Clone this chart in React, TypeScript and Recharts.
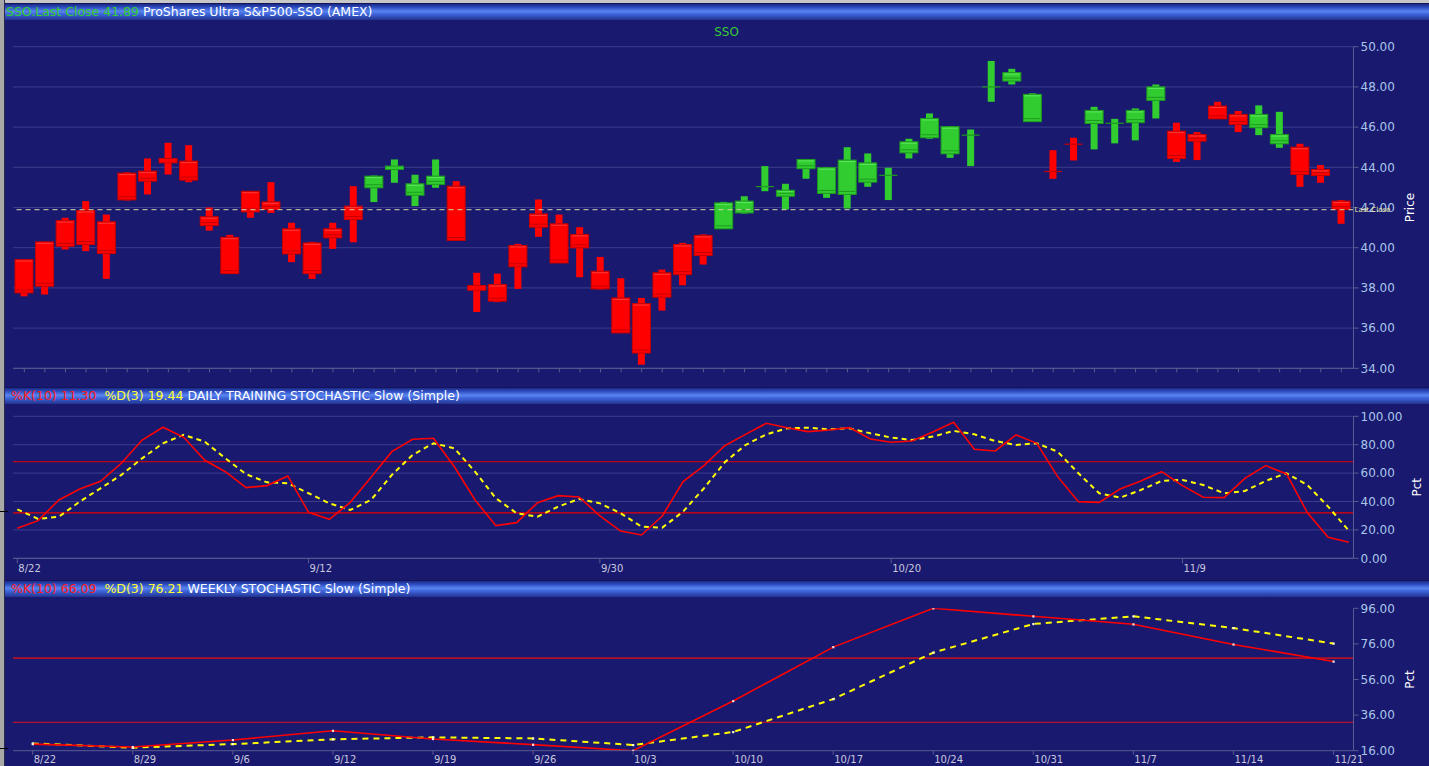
import React from 'react';
import { ComposedChart, LineChart, Line, Bar, XAxis, YAxis, CartesianGrid, ReferenceLine } from 'recharts';

const days = ['8/22','8/23','8/24','8/25','8/26','8/29','8/30','8/31','9/1','9/2','9/6','9/7','9/8','9/9','9/12','9/13','9/14','9/15','9/16','9/19','9/20','9/21','9/22','9/23','9/26','9/27','9/28','9/29','9/30','10/3','10/4','10/5','10/6','10/7','10/10','10/11','10/12','10/13','10/14','10/17','10/18','10/19','10/20','10/21','10/24','10/25','10/26','10/27','10/28','10/31','11/1','11/2','11/3','11/4','11/7','11/8','11/9','11/10','11/11','11/14','11/15','11/16','11/17','11/18','11/21'];

const opens = [39.41,40.29,41.35,41.85,41.29,43.71,43.81,44.44,44.31,41.54,40.52,42.81,42.28,40.94,40.24,40.94,42.07,42.98,43.89,42.61,43.15,43.06,38.12,38.17,40.11,41.68,41.19,40.66,38.83,37.50,37.22,38.75,40.16,40.61,40.94,41.73,43.02,42.56,43.93,42.70,42.65,43.26,43.58,44.72,45.47,44.67,45.58,47.98,48.29,46.27,43.79,45.15,46.18,46.17,46.22,47.33,45.80,45.63,47.05,46.63,45.97,45.17,45.00,43.89,42.32];
const highs = [39.41,40.29,41.49,42.32,41.65,43.75,44.44,45.22,45.10,42.00,40.64,42.81,43.26,41.24,40.29,41.24,43.06,43.59,44.39,43.63,44.39,43.31,38.75,38.71,40.19,42.40,41.65,41.02,39.54,38.48,37.50,38.91,40.24,40.66,42.28,42.56,44.06,43.18,44.39,44.01,45.00,44.69,43.98,45.42,46.68,46.05,45.88,49.29,48.90,47.68,44.85,45.47,47.01,46.41,46.93,48.12,46.22,45.75,47.26,46.80,47.08,46.76,45.17,44.11,42.37];
const lows = [37.58,37.67,39.91,39.83,38.45,42.35,42.65,43.64,43.26,40.85,38.71,41.49,41.73,39.28,38.45,39.94,40.27,42.27,43.23,42.07,42.98,40.36,36.80,37.29,37.95,40.54,39.24,38.53,37.92,35.76,34.18,36.87,38.13,39.16,40.94,41.70,42.81,41.90,43.43,42.48,41.95,43.03,42.37,44.44,45.42,44.47,44.06,47.26,48.12,46.27,43.43,44.34,44.89,45.19,45.34,46.43,44.27,44.36,46.41,45.75,45.60,44.97,43.03,43.23,41.19];
const closes = [37.75,38.08,40.07,40.16,39.71,42.38,43.31,44.22,43.36,41.10,38.71,41.78,41.90,39.69,38.71,40.49,41.40,43.56,44.06,43.18,43.56,40.36,37.88,37.34,39.05,41.02,39.24,39.99,37.95,35.76,34.76,37.54,38.66,39.61,42.23,42.32,43.04,42.86,44.39,43.98,44.36,44.22,43.60,45.27,46.43,46.02,45.60,48.00,48.71,47.63,43.77,45.13,46.83,46.19,46.83,48.00,44.44,45.30,46.41,46.13,46.63,45.63,43.64,43.59,41.89];

const dailyK = [21.1,26.5,41.1,48.8,54.2,66.9,83.3,92.3,85.2,69.2,61.0,49.8,51.2,58.0,32.4,27.5,39.4,57.0,75.1,83.8,84.5,64.6,41.1,23.0,25.1,39.2,44.1,43.2,29.8,19.2,16.4,29.8,54.0,65.3,79.3,87.3,95.1,92.0,89.2,90.4,92.0,84.0,81.7,82.6,89.0,95.8,76.8,75.6,86.9,81.0,57.5,39.9,39.4,48.8,54.5,61.0,51.2,43.0,42.7,56.3,65.3,59.4,32.2,14.8,11.3];
const dailyD = [34.5,27.7,29.3,39.9,49.3,58.7,70.4,81.0,86.9,82.2,70.4,59.2,53.5,52.8,45.8,38.7,34.0,41.1,58.7,72.8,81.0,77.5,61.0,42.3,31.7,29.3,36.4,41.8,38.7,31.7,22.3,21.6,32.9,49.3,67.6,79.8,87.3,91.5,92.0,90.8,91.5,88.0,85.0,83.3,85.7,89.7,87.3,82.6,79.8,81.0,75.1,59.9,45.8,42.7,48.1,54.5,55.2,51.6,45.8,47.4,54.5,59.9,51.6,36.4,19.44];

const weeks = ['8/22','8/29','9/6','9/12','9/19','9/26','10/3','10/10','10/17','10/24','10/31','11/7','11/14','11/21'];
const weeklyK = [19.7,18.1,22.0,27.2,22.6,19.4,16.0,43.9,74.2,96.0,91.5,87.0,75.7,66.09];
const weeklyD = [20.1,17.7,19.7,22.4,23.5,22.9,19.2,26.5,45.0,71.1,87.2,91.5,84.9,76.21];

const priceTicks = [34,36,38,40,42,44,46,48,50];
const dailyTicks = [0,20,40,60,80,100];
const weeklyTicks = [16,36,56,76,96];
const dailyLabelDates = ['8/22','9/12','9/30','10/20','11/9'];
const overbought = 68;
const oversold = 32;

const priceData = days.map((d, i) => ({ i, date: d, open: opens[i], high: highs[i], low: lows[i], close: closes[i], range: [lows[i], highs[i]] }));
const dailyData = days.map((d, i) => ({ i, date: d, k: dailyK[i], d: dailyD[i] }));
const weeklyData = weeks.map((w, i) => ({ i, date: w, k: weeklyK[i], d: weeklyD[i] }));

const BG = '#191970';
const GRID = '#3d3d8c';
const AXIS = '#5c5c90';
const TICKTXT = '#a9c6e8';
const FONT = '"DejaVu Sans", Verdana, sans-serif';
const W = 1429;

const Candle = (props: any) => {
  const { x, y, width, height, payload } = props;
  if (!payload || height == null || isNaN(y)) return null;
  const { open, close, high, low } = payload;
  const cx = x + width / 2;
  const ppu = height / (high - low);
  const yO = y + (high - open) * ppu;
  const yC = y + (high - close) * ppu;
  const up = close >= open;
  const fill = up ? '#30cc30' : '#ff0000';
  const edge = up ? '#1f9a1f' : '#c40000';
  const hi = up ? '#5ee85e' : '#ff3a3a';
  const top = Math.min(yO, yC);
  const bh = Math.abs(yC - yO);
  const bw = 18;
  const ww = 7;
  return (
    <g>
      <rect x={cx - ww / 2} y={y} width={ww} height={height} fill={fill} />
      {bh < 1.5 ? (
        <rect x={cx - bw / 2} y={top - 0.6} width={bw} height={1.2} fill={edge} />
      ) : (
        <g>
          <rect x={cx - bw / 2} y={top} width={bw} height={bh} fill={fill} stroke={edge} strokeWidth={1} />
          {bh > 6 && <line x1={cx - bw / 2 + 1} x2={cx + bw / 2 - 1} y1={top + 1.5} y2={top + 1.5} stroke={hi} strokeWidth={1} />}
          {bh > 6 && <line x1={cx - bw / 2 + 1} x2={cx + bw / 2 - 1} y1={top + bh - 3} y2={top + bh - 3} stroke={edge} strokeWidth={1} />}
        </g>
      )}
    </g>
  );
};

const NoTick = () => <g />;

const makeDateTick = (labels: string[]) => (props: any) => {
  const { x, y, payload } = props;
  return (
    <text x={x + 1} y={y} dy="0.71em" fill="#c8c8dc" fontSize={10} fontFamily={FONT} textAnchor="start">
      {labels[payload.value]}
    </text>
  );
};

const SmallDot = (color: string) => (props: any) => {
  const { cx, cy, index } = props;
  if (cx == null || cy == null) return <g key={index} />;
  return <rect key={index} x={cx - 1} y={cy - 1} width={2.2} height={2.2} fill={color} />;
};

const headerBar: React.CSSProperties = {
  position: 'absolute',
  left: 5,
  width: W - 5,
  height: 17,
  background: 'linear-gradient(#1b2a86 0%, #2f4fc4 22%, #5a84ee 45%, #3c62d8 65%, #22338f 100%)',
  borderTop: '1px solid #14145a',
  boxSizing: 'border-box',
  fontFamily: FONT,
  fontSize: 12.5,
  lineHeight: '16px',
  whiteSpace: 'pre',
  color: '#ffffff',
};

export default function App() {
  const dailyIdx = dailyLabelDates.map((d) => days.indexOf(d));
  const n = days.length;
  return (
    <div style={{ position: 'absolute', left: 0, top: 0, width: W, height: 766, background: BG, overflow: 'hidden', fontFamily: FONT }}>
      <div style={{ position: 'absolute', left: 0, top: 0, width: W, height: 3, background: '#c8c8c8' }} />
      <div style={{ position: 'absolute', left: 0, top: 0, width: 4, height: 766, background: '#a8a8a8' }} />
      <div style={{ position: 'absolute', left: 4, top: 0, width: 1, height: 766, background: '#2a2a50' }} />
      <div style={{ position: 'absolute', left: 0, top: 511, width: 8, height: 1, background: '#000' }} />
      <div style={{ position: 'absolute', left: 0, top: 748, width: 8, height: 1, background: '#000' }} />

      <div style={{ ...headerBar, top: 3 }}>
        <span style={{ marginLeft: 1, color: '#33cc33' }}>{`SSO.Last Close ${closes[n - 1].toFixed(2)}`}</span>
        <span>{' ProShares Ultra S&P500-SSO (AMEX)'}</span>
      </div>
      <div style={{ position: 'absolute', left: 0, width: W, top: 25, textAlign: 'center', paddingLeft: 24, boxSizing: 'border-box', color: '#33cc33', fontSize: 12, fontFamily: FONT }}>SSO</div>

      <div style={{ position: 'absolute', left: 0, top: 20 }}>
        <ComposedChart width={W} height={362} data={priceData} margin={{ top: 26.7, right: 0, left: 13, bottom: 0 }}>
          <CartesianGrid vertical={false} stroke={GRID} />
          <XAxis
            dataKey="i"
            type="number"
            domain={[-0.549, 64.59]}
            allowDataOverflow
            ticks={priceData.map((p) => p.i)}
            interval={0}
            height={13.7}
            tick={NoTick}
            tickSize={4}
            stroke={AXIS}
          />
          <YAxis
            orientation="right"
            width={75.5}
            domain={[34, 50]}
            ticks={priceTicks}
            allowDataOverflow
            tickFormatter={(v: number) => v.toFixed(2)}
            tick={{ fill: TICKTXT, fontSize: 12, fontFamily: FONT }}
            tickSize={5}
            tickMargin={2}
            stroke={AXIS}
            label={{ value: 'Price', angle: -90, position: 'center', dx: 18, fill: '#ffffff', fontSize: 12, fontFamily: FONT }}
          />
          <ReferenceLine
            y={closes[n - 1]}
            stroke="#d8d8a8"
            strokeDasharray="5 4"
            label={{ value: 'Last Close', position: 'right', offset: 1, fill: '#e8e8a0', fontSize: 7, fontFamily: FONT }}
          />
          <Bar dataKey="range" barSize={18} shape={Candle} isAnimationActive={false} />
        </ComposedChart>
      </div>

      <div style={{ ...headerBar, top: 387 }}>
        <span style={{ marginLeft: 6, color: '#ff1a1a' }}>{`%K(10) ${dailyK[n - 1].toFixed(2)}`}</span>
        <span style={{ color: '#ffff33' }}>{`  %D(3) ${dailyD[n - 1].toFixed(2)}`}</span>
        <span>{' DAILY TRAINING STOCHASTIC Slow (Simple)'}</span>
      </div>

      <div style={{ position: 'absolute', left: 0, top: 404 }}>
        <LineChart width={W} height={176} data={dailyData} margin={{ top: 12.3, right: 0, left: 13, bottom: 0 }}>
          <CartesianGrid vertical={false} stroke={GRID} />
          <XAxis
            dataKey="i"
            type="number"
            domain={[-0.207, 64.22]}
            allowDataOverflow
            ticks={dailyIdx}
            interval={0}
            height={21.7}
            tick={makeDateTick(days)}
            tickSize={5}
            tickMargin={2}
            stroke={AXIS}
          />
          <YAxis
            orientation="right"
            width={75.5}
            domain={[0, 100]}
            ticks={dailyTicks}
            allowDataOverflow
            tickFormatter={(v: number) => v.toFixed(2)}
            tick={{ fill: TICKTXT, fontSize: 12, fontFamily: FONT }}
            tickSize={5}
            tickMargin={2}
            stroke={AXIS}
            label={{ value: 'Pct', angle: -90, position: 'center', dx: 26, fill: '#ffffff', fontSize: 12, fontFamily: FONT }}
          />
          <ReferenceLine y={overbought} stroke="#e80000" strokeWidth={1.2} />
          <ReferenceLine y={oversold} stroke="#e80000" strokeWidth={1.2} />
          <Line dataKey="d" type="linear" stroke="#ffff00" strokeWidth={2} strokeDasharray="5 4" dot={false} isAnimationActive={false} />
          <Line dataKey="k" type="linear" stroke="#ff0000" strokeWidth={1.6} dot={false} isAnimationActive={false} />
        </LineChart>
      </div>

      <div style={{ ...headerBar, top: 580 }}>
        <span style={{ marginLeft: 6, color: '#ff1a1a' }}>{`%K(10) ${weeklyK[weeklyK.length - 1].toFixed(2)}`}</span>
        <span style={{ color: '#ffff33' }}>{`  %D(3) ${weeklyD[weeklyD.length - 1].toFixed(2)}`}</span>
        <span>{' WEEKLY STOCHASTIC Slow (Simple)'}</span>
      </div>

      <div style={{ position: 'absolute', left: 0, top: 596 }}>
        <LineChart width={W} height={170} data={weeklyData} margin={{ top: 12.3, right: 0, left: 13, bottom: 0 }}>
          <XAxis
            dataKey="i"
            type="number"
            domain={[-0.197, 13.2]}
            allowDataOverflow
            ticks={weeklyData.map((w) => w.i)}
            interval={0}
            height={15.3}
            tick={makeDateTick(weeks)}
            tickSize={4}
            tickMargin={1}
            stroke={AXIS}
          />
          <YAxis
            orientation="right"
            width={75.5}
            domain={[16, 96]}
            ticks={weeklyTicks}
            allowDataOverflow
            tickFormatter={(v: number) => v.toFixed(2)}
            tick={{ fill: TICKTXT, fontSize: 12, fontFamily: FONT }}
            tickSize={5}
            tickMargin={2}
            stroke={AXIS}
            label={{ value: 'Pct', angle: -90, position: 'center', dx: 18, fill: '#ffffff', fontSize: 12, fontFamily: FONT }}
          />
          <ReferenceLine y={overbought} stroke="#b0102a" strokeWidth={1.6} />
          <ReferenceLine y={oversold} stroke="#e0101a" strokeWidth={1.1} />
          <Line dataKey="d" type="linear" stroke="#ffff00" strokeWidth={2} strokeDasharray="6 5" dot={SmallDot('#ffffd0')} isAnimationActive={false} />
          <Line dataKey="k" type="linear" stroke="#ff0000" strokeWidth={1.6} dot={SmallDot('#ffe0e0')} isAnimationActive={false} />
        </LineChart>
      </div>
    </div>
  );
}
